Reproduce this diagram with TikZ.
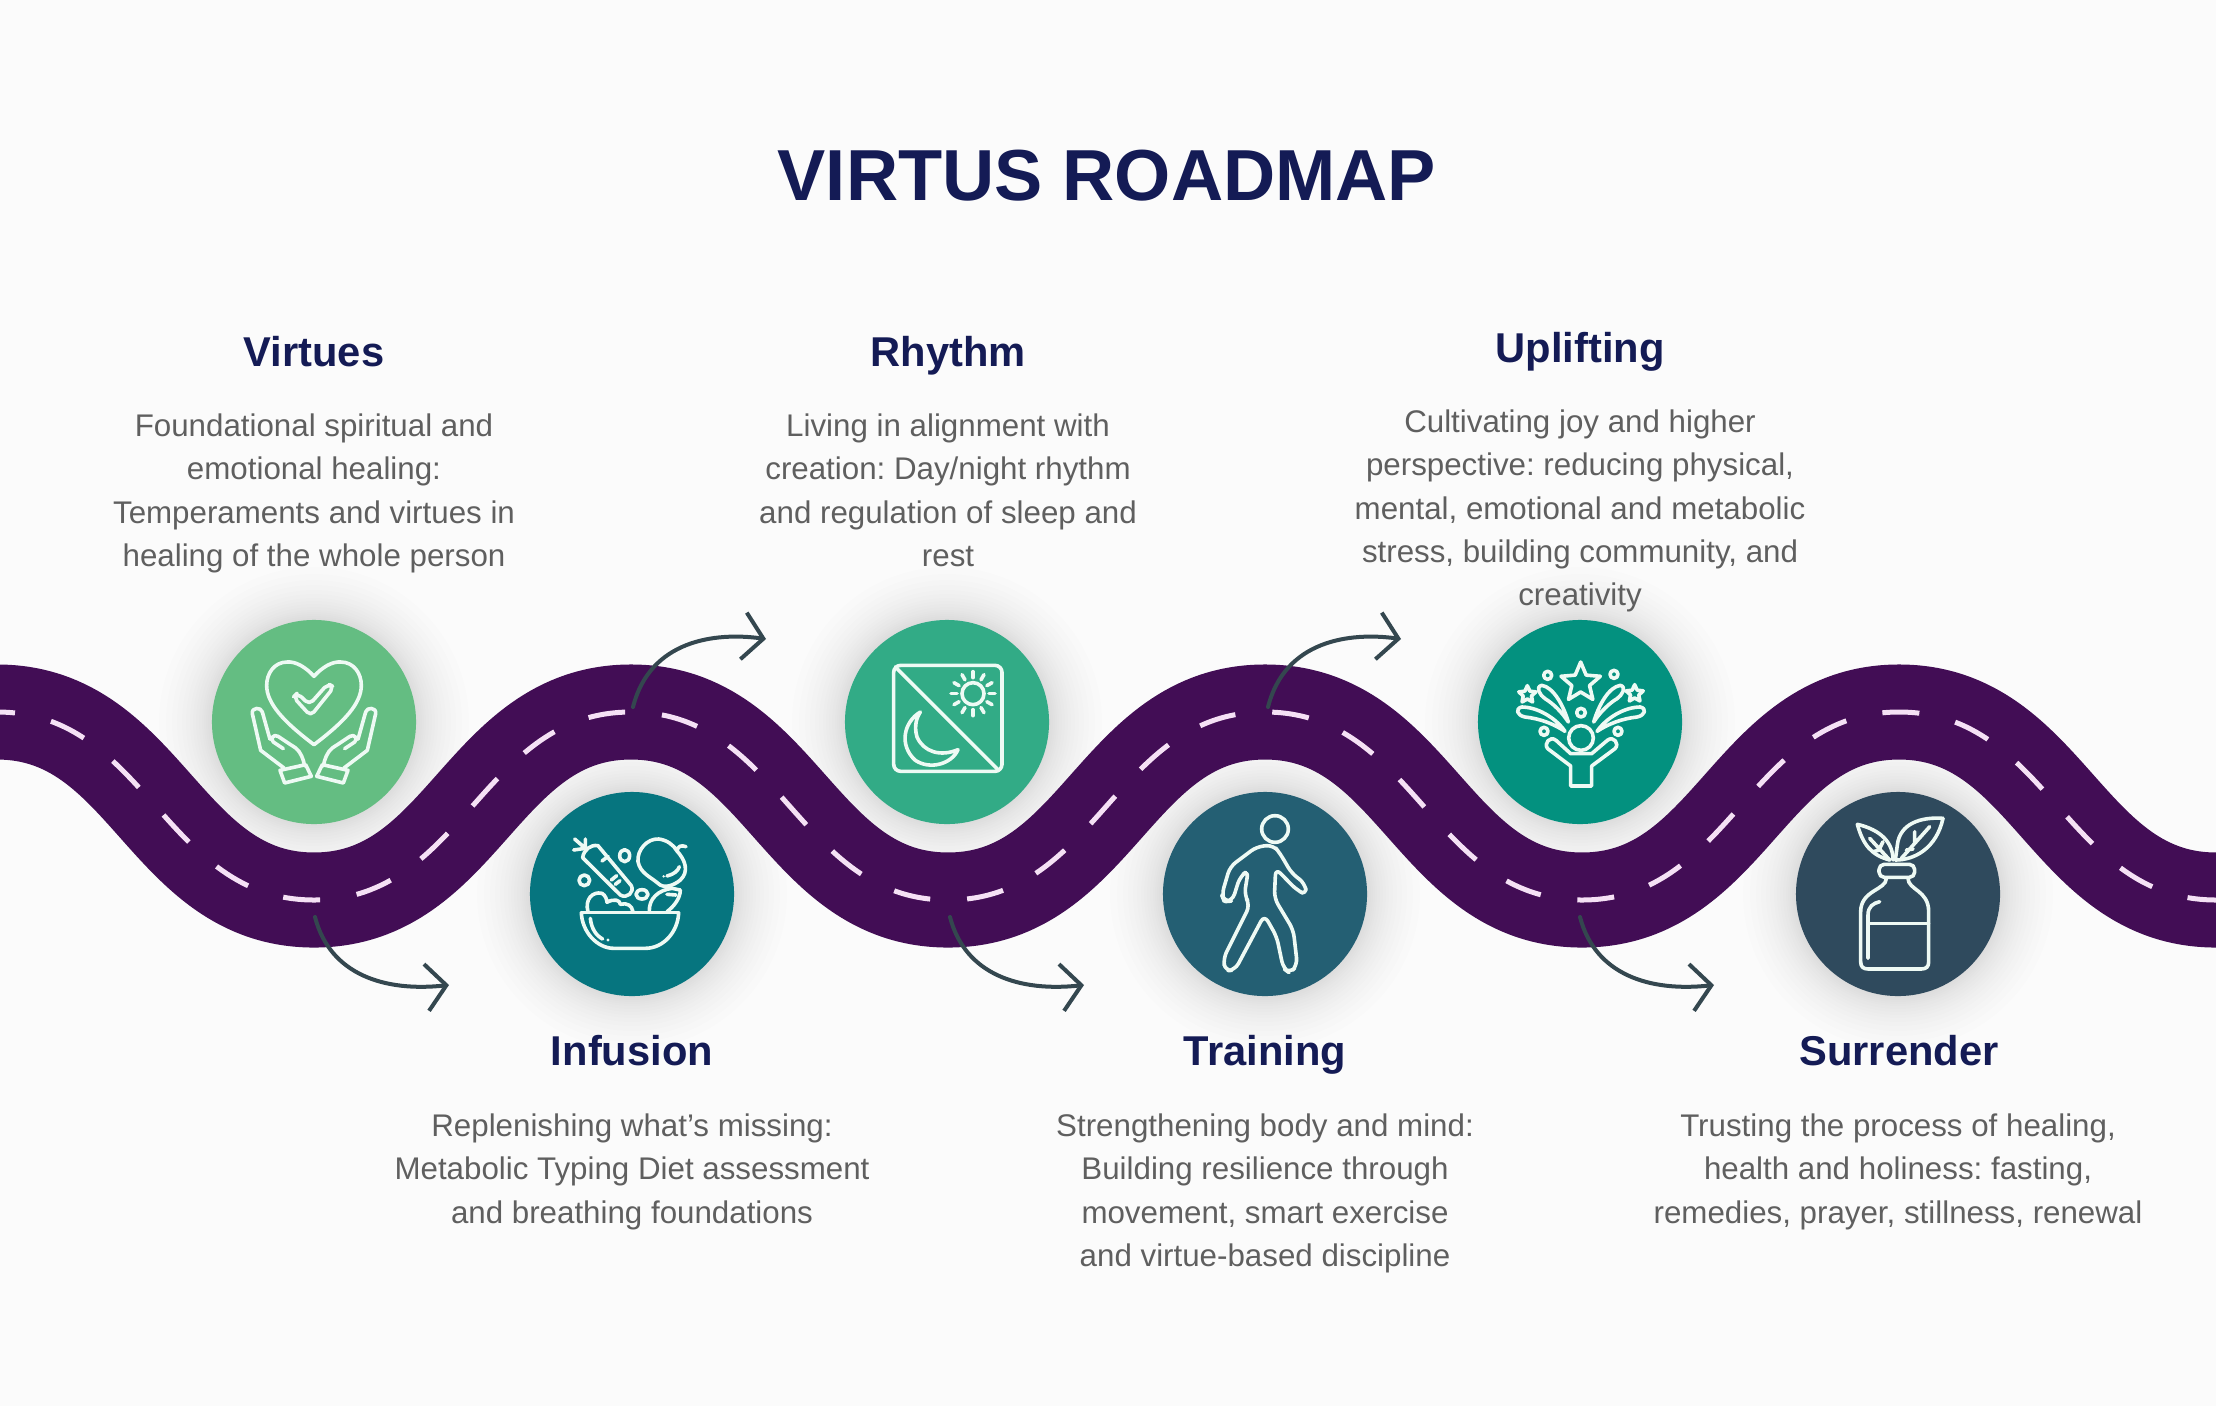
\documentclass[tikz,border=0pt]{standalone}
\usepackage{fontspec}
\setmainfont{Liberation Sans}
\usetikzlibrary{arrows.meta}

\definecolor{paper}{HTML}{FBFBFB}
\definecolor{roadcol}{HTML}{420D55}
\definecolor{dashcol}{HTML}{F5E1F5}
\definecolor{navycol}{HTML}{141B55}
\definecolor{textcol}{HTML}{5F5F5F}
\definecolor{flowcol}{HTML}{34474F}
\definecolor{leafcol}{HTML}{64BD82}
\definecolor{bowlcol}{HTML}{06757F}
\definecolor{sunmooncol}{HTML}{32AB86}
\definecolor{walkcol}{HTML}{245F73}
\definecolor{cheercol}{HTML}{03917F}
\definecolor{bottlecol}{HTML}{2F4A5D}
\definecolor{linecol}{HTML}{EEFAF4}

\newcommand{\iconstar}[4]{%
  \draw[shift={(#1,#2)}] (-90:#3) -- (-54:#4) -- (-18:#3) -- (18:#4) -- (54:#3)
    -- (90:#4) -- (126:#3) -- (162:#4) -- (198:#3) -- (234:#4) -- cycle;}

\begin{document}
\frenchspacing
\begin{tikzpicture}[
    x=0.01cm, y=-0.01cm,
    title/.style={font=\fontsize{20.55}{25}\selectfont\bfseries, text=navycol, inner sep=0pt},
    heading/.style={font=\fontsize{11.85}{14}\selectfont\bfseries, text=navycol, anchor=base, inner sep=0pt},
    body/.style={font=\fontsize{8.9}{12.33}\selectfont, text=textcol, align=center, anchor=north, inner sep=0pt},
    badge/.style={circle, minimum size=2.04cm, inner sep=0pt},
    road/.style={draw=roadcol, line width=0.95cm},
    lane/.style={draw=dashcol, line width=0.05cm, dash pattern=on 0.37cm off 0.37cm, dash phase=0.19cm},
    flow/.style={draw=flowcol, line width=0.04cm, line cap=round, -{Straight Barb[length=0.2cm,width=0.47cm]}},
    icon/.style={draw=linecol, line width=0.036cm, line cap=round, line join=round}
  ]
  \fill[paper] (0,0) rectangle (2216,1406);
  \useasboundingbox (0,0) rectangle (2216,1406);

  % Stops
  \coordinate (c1) at (314,722);
  \coordinate (c2) at (632,894);
  \coordinate (c3) at (947,722);
  \coordinate (c4) at (1265,894);
  \coordinate (c5) at (1580,722);
  \coordinate (c6) at (1898,894);

  % Soft shadows
  \foreach \c in {c1,c2,c3,c4,c5,c6}
    \foreach \r in {104,106,108,110,112,115,118,121,124,128,132,137,142,148,155}
      \fill[black, opacity=0.008] (\c) circle (\r);

  % Road
  \def\roadpath{(-3,712) .. controls (147,712) and (164,900) .. (314,900)
    .. controls (464,900) and (481,712) .. (631,712)
    .. controls (781,712) and (798,900) .. (948,900)
    .. controls (1098,900) and (1115,712) .. (1265,712)
    .. controls (1415,712) and (1432,900) .. (1582,900)
    .. controls (1732,900) and (1749,712) .. (1899,712)
    .. controls (2049,712) and (2066,900) .. (2216,900) -- (2240,900)}
  \draw[road] \roadpath;
  \draw[lane] \roadpath;

  % Arrows
  \foreach \i/\dx in {1/0,2/635,3/1265} {
    \coordinate (down\i) at (315+\dx,917);
    \coordinate (downtip\i) at (449+\dx,985);
    \draw[flow] (down\i) .. controls +(15,58) and +(-64,7) .. (downtip\i);
  }
  \foreach \i/\dx in {1/0,2/635} {
    \coordinate (up\i) at (633+\dx,707);
    \coordinate (uptip\i) at (766+\dx,639);
    \draw[flow] (up\i) .. controls +(17,-67) and +(-51,-7) .. (uptip\i);
  }

  % Badges
  \node[badge, fill=leafcol] (virtues) at (c1) {};
  \node[badge, fill=bowlcol] (infusion) at (c2) {};
  \node[badge, fill=sunmooncol] (rhythm) at (c3) {};
  \node[badge, fill=walkcol] (training) at (c4) {};
  \node[badge, fill=cheercol] (uplifting) at (c5) {};
  \node[badge, fill=bottlecol] (surrender) at (c6) {};

  % Heart and hands
  \begin{scope}[icon, shift={(234,642)}, scale=0.3333]
    \draw (240,103) .. controls (215,75) and (185,58) .. (160,60)
      .. controls (120,60) and (98,95) .. (98,130)
      .. controls (98,185) and (150,240) .. (240,308)
      .. controls (330,240) and (382,185) .. (382,130)
      .. controls (382,95) and (360,60) .. (320,60)
      .. controls (295,58) and (265,75) .. (240,103) -- cycle;
    \draw[rounded corners=1.5pt] (178,165) -- (190,153) -- (226,188) -- (282,125) -- (300,135) -- (230,222) -- cycle;
    \foreach \s/\o in {1/0,-1/480} {
      \begin{scope}[shift={(\o,0)}, xscale=\s]
        \draw (150,378) -- (80,325) -- (55,215) .. controls (52,195) and (82,195) .. (85,210) -- (108,292);
        \draw (148,320) -- (118,300) .. controls (108,290) and (118,275) .. (132,283) -- (185,318)
          .. controls (200,330) and (208,350) .. (212,372);
        \draw (138,385) -- (215,368) -- (232,403) -- (152,423) -- cycle;
      \end{scope}
    }
  \end{scope}

  % Bowl
  \begin{scope}[icon, shift={(552,815)}, scale=0.3333]
    \draw (88,293) -- (380,293);
    \draw (88,293) .. controls (90,350) and (135,400) .. (185,400) -- (280,400)
      .. controls (335,400) and (378,350) .. (380,293);
    \draw (115,310) .. controls (118,340) and (132,362) .. (152,372);
    \fill[linecol] (168,375) circle (5);
    \draw (92,128) .. controls (95,105) and (115,88) .. (138,92) -- (238,212)
      .. controls (248,232) and (225,252) .. (205,240) -- cycle;
    \draw (68,72) -- (100,100) (65,105) -- (100,100) (100,72) -- (100,100);
    \draw (150,138) -- (168,124) (178,195) -- (194,182) (190,208) -- (204,197);
    \draw (218,122) ellipse (15 and 18);
    \draw (97,196) circle (16);
    \draw (270,238) ellipse (18 and 14);
    \draw (375,108) .. controls (400,135) and (412,170) .. (385,195)
      .. controls (365,212) and (335,222) .. (318,205)
      .. controls (295,185) and (265,175) .. (258,140)
      .. controls (255,105) and (285,70) .. (320,72)
      .. controls (345,75) and (365,90) .. (375,108) .. controls (378,92) and (388,90) .. (402,95);
    \draw (345,183) .. controls (365,178) and (378,168) .. (382,155);
    \fill[linecol] (335,184) circle (4);
    \draw (292,290) .. controls (290,250) and (320,225) .. (360,220) -- (385,225)
      .. controls (385,250) and (365,275) .. (345,290);
    \draw (345,238) -- (372,240);
    \draw (108,290) .. controls (98,255) and (120,228) .. (150,235)
      .. controls (160,240) and (165,255) .. (165,262)
      .. controls (185,250) and (205,255) .. (205,268)
      .. controls (225,262) and (240,272) .. (243,290);
  \end{scope}

  % Sun and moon
  \begin{scope}[icon, shift={(867,642)}, scale=0.3333]
    \draw[rounded corners=2pt] (80,70) rectangle (405,388);
    \draw (85,75) -- (395,385);
    \draw (318,155) circle (33);
    \foreach \a in {0,30,...,330}
      \draw ([shift={(\a:48)}]318,155) -- ([shift={(\a:66)}]318,155);
    \draw (160,210) .. controls (110,240) and (95,310) .. (145,355)
      .. controls (190,385) and (255,365) .. (273,323)
      .. controls (220,345) and (170,330) .. (150,285)
      .. controls (140,250) and (150,225) .. (160,210) -- cycle;
  \end{scope}

  % Walker
  \begin{scope}[icon, shift={(1185,805)}, scale=0.3333]
    \draw (270,72) circle (40);
    \draw[rounded corners=2pt] (215,125) -- (135,185) -- (110,270) -- (118,290) -- (142,288) -- (165,215)
      -- (190,195) -- (178,270) -- (195,300) -- (115,460) -- (120,498) -- (150,495) -- (238,330)
      -- (275,395) -- (295,490) -- (315,505) -- (337,480) -- (325,375) -- (268,280) -- (272,190)
      -- (335,255) -- (365,270) -- (360,235) -- (320,205) -- (285,145) -- (265,120) -- cycle;
  \end{scope}

  % Person with stars
  \begin{scope}[icon, shift={(1500,642)}, scale=0.3333]
    \iconstar{242}{122}{62}{28}
    \iconstar{82}{158}{27}{13}
    \iconstar{404}{155}{27}{13}
    \draw (143,100) circle (12) (342,97) circle (12) (243,212) circle (13) (132,268) circle (12) (354,268) circle (12);
    \draw (243,288) circle (37);
    \foreach \s/\o in {1/0,-1/486} {
      \begin{scope}[shift={(\o,0)}, xscale=\s]
        \draw (205,240) .. controls (190,190) and (160,135) .. (125,130)
          .. controls (105,135) and (120,160) .. (135,170) .. controls (160,185) and (185,210) .. (205,240) -- cycle;
        \draw (195,268) .. controls (165,225) and (110,195) .. (65,195)
          .. controls (45,200) and (50,220) .. (75,225) .. controls (120,230) and (160,245) .. (195,268) -- cycle;
      \end{scope}
    }
    \draw (212,432) -- (212,372) -- (143,320) .. controls (130,305) and (150,280) .. (168,295)
      -- (212,335) -- (275,335) -- (322,295) .. controls (340,280) and (360,305) .. (345,320)
      -- (275,372) -- (275,432) -- cycle;
  \end{scope}

  % Bottle
  \begin{scope}[icon, shift={(1818,805)}, scale=0.3333]
    \draw[rounded corners=1.5pt] (183,178) rectangle (290,217);
    \draw (205,220) .. controls (205,255) and (128,255) .. (128,320) -- (128,470)
      .. controls (128,485) and (135,492) .. (150,492) -- (310,492)
      .. controls (325,492) and (332,485) .. (332,470) -- (332,320)
      .. controls (332,255) and (270,255) .. (270,220);
    \draw (150,355) -- (332,355);
    \draw (150,460) -- (150,330) .. controls (150,305) and (165,295) .. (185,290);
    \draw (118,58) .. controls (135,120) and (160,150) .. (215,165);
    \draw (118,58) .. controls (170,70) and (225,100) .. (225,165);
    \draw (215,165) -- (155,100) (185,130) -- (195,110) (185,135) -- (165,140);
    \draw (375,40) .. controls (310,35) and (245,55) .. (238,120) -- (232,165);
    \draw (232,165) .. controls (290,165) and (355,130) .. (375,40);
    \draw (250,160) -- (335,65) (290,115) -- (290,80) (285,132) -- (265,135);
  \end{scope}

  % Texts
  \node[title] (heading) at (1107,176) {VIRTUS ROADMAP};

  \node[heading] (t1) at (314,366) {Virtues};
  \node[body] (b1) at (314,413) {Foundational spiritual and\\emotional healing:\\Temperaments and virtues in\\healing of the whole person};
  \node[heading] (t2) at (948,366) {Rhythm};
  \node[body] (b2) at (948,413) {Living in alignment with\\creation: Day/night rhythm\\and regulation of sleep and\\rest};
  \node[heading] (t3) at (1580,362) {Uplifting};
  \node[body] (b3) at (1580,409) {Cultivating joy and higher\\perspective: reducing physical,\\mental, emotional and metabolic\\stress, building community, and\\creativity};
  \node[heading] (t4) at (632,1065) {Infusion};
  \node[body] (b4) at (632,1113) {Replenishing what’s missing:\\Metabolic Typing Diet assessment\\and breathing foundations};
  \node[heading] (t5) at (1265,1065) {Training};
  \node[body] (b5) at (1265,1113) {Strengthening body and mind:\\Building resilience through\\movement, smart exercise\\and virtue-based discipline};
  \node[heading] (t6) at (1899,1065) {Surrender};
  \node[body] (b6) at (1898,1113) {Trusting the process of healing,\\health and holiness: fasting,\\remedies, prayer, stillness, renewal};
\end{tikzpicture}
\end{document}
